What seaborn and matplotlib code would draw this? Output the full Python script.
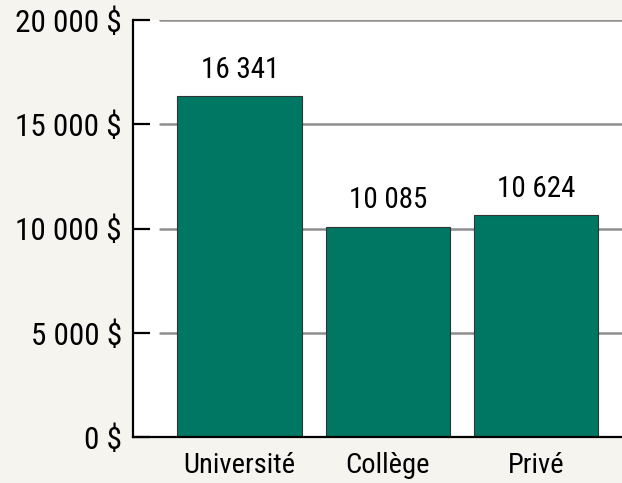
import matplotlib
matplotlib.use("Agg")
import matplotlib.pyplot as plt
import seaborn as sns
import pandas as pd

# donnees
categories = ["Université", "Collège", "Privé"]
valeurs = [16341, 10085, 10624]
yticks = [0, 5000, 10000, 15000, 20000]

def fmt_nb(v):
    return f"{v:,}".replace(",", " ")

sns.set_style("white")
plt.rcParams['font.family'] = ['Roboto Condensed', 'DejaVu Sans']
plt.rcParams['text.color'] = 'black'
plt.rcParams['xtick.color'] = 'black'
plt.rcParams['ytick.color'] = 'black'

df = pd.DataFrame({"type": categories, "montant": valeurs})

fig = plt.figure(figsize=(6.22, 4.83), dpi=100, facecolor="#f5f4ef")
ax = fig.add_axes([133/622, 46/483, 489/622, 417/483])
ax.set_facecolor("white")

for t in yticks[1:]:
    ax.axhline(t, xmin=0.055, xmax=1, color="#8f8f8f", lw=1.8, zorder=0)

sns.barplot(data=df, x="type", y="montant", color="#007763", saturation=1,
            edgecolor="#333333", linewidth=0.8, width=0.84, ax=ax, zorder=2)

for i, v in enumerate(valeurs):
    ax.annotate(fmt_nb(v), (i, v), xytext=(0, 9), textcoords="offset points",
                ha="center", va="bottom", fontsize=21)

ax.set_xlim(-0.72, 2.58)
ax.set_ylim(0, 20000)
ax.set_yticks(yticks)
ax.set_yticklabels([fmt_nb(t) + " $" for t in yticks], fontsize=22.5)
ax.tick_params(axis="y", direction="in", length=12, width=1.6, color="black", pad=8, left=True)
ax.tick_params(axis="x", length=0, pad=11, labelsize=20.5)
ax.set_xlabel("")
ax.set_ylabel("")

for s in ["top", "right"]:
    ax.spines[s].set_visible(False)
for s in ["left", "bottom"]:
    ax.spines[s].set_color("black")
    ax.spines[s].set_linewidth(1.6)

fig.savefig("out.png", dpi=100, facecolor=fig.get_facecolor())
